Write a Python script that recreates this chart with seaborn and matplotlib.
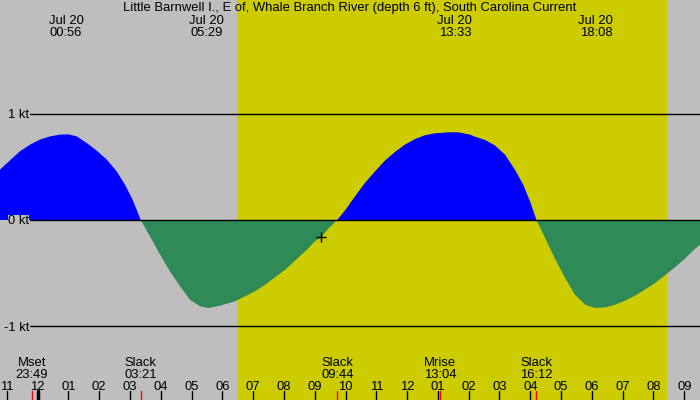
import matplotlib
matplotlib.use('Agg')
from matplotlib import pyplot as plt
import numpy as np
import seaborn as sns

# current speed (kt), time in hours from 00:00 Jul 20
hours = [-1.22, -0.89, -0.57, -0.24, 0.08, 0.41, 0.73, 1.00, 1.27, 1.60,
         1.92, 2.25, 2.57, 2.84, 3.06, 3.22, 3.35, 3.65, 3.98, 4.30,
         4.63, 4.95, 5.28, 5.55, 5.93, 6.41,
         6.74, 7.06, 7.39, 7.71, 8.04, 8.36, 8.69, 9.01, 9.21, 9.44,
         9.73, 9.98, 10.31, 10.63, 10.96, 11.28, 11.61, 11.93, 12.26, 12.58,
         12.91, 13.34, 13.66, 14.04,
         14.20, 14.53, 14.85, 15.18, 15.50, 15.77, 15.99, 16.20, 16.48, 16.80,
         17.13, 17.45, 17.78, 18.10, 18.43, 18.75, 19.08, 19.40, 19.72, 20.05,
         20.37, 20.70, 21.02, 21.35, 21.51]
speed = [0.475, 0.563, 0.648, 0.711, 0.758, 0.789, 0.805, 0.808, 0.789, 0.726,
         0.654, 0.569, 0.459, 0.333, 0.208, 0.097, 0.0, -0.154, -0.327, -0.484,
         -0.626, -0.752, -0.814, -0.830, -0.808, -0.767,
         -0.720, -0.673, -0.610, -0.541, -0.469, -0.384, -0.296, -0.201, -0.164, -0.082,
         0.0, 0.088, 0.223, 0.349, 0.459, 0.560, 0.642, 0.711, 0.764, 0.799,
         0.818, 0.827, 0.827, 0.805,
         0.786, 0.755, 0.704, 0.616, 0.475, 0.333, 0.176, 0.0, -0.170, -0.365,
         -0.547, -0.705, -0.799, -0.830, -0.824, -0.799, -0.761, -0.714, -0.657, -0.594,
         -0.522, -0.446, -0.365, -0.271, -0.235]

title = 'Little Barnwell I., E of, Whale Branch River (depth 6 ft), South Carolina Current'
peak_labels = ['00:56', '05:29', '13:33', '18:08']
peak_hours = [0.93, 5.48, 13.55, 18.13]
event_names = ['Mset', 'Slack', 'Slack', 'Mrise', 'Slack']
event_labels = ['23:49', '03:21', '09:44', '13:04', '16:12']
event_hours = [-0.183, 3.35, 9.733, 13.067, 16.2]
sunrise, sunset = 6.48, 20.43
now_hour, now_speed = 9.2, -0.16
kt_levels = [1, 0, -1]

x0, x1 = -1.218, 21.51
y0, y1 = -1.698, 2.075
px = (x1 - x0) / 700
py = (y1 - y0) / 400
bg = '#bebebe'
fs = 9.4
dy = 1.5 * py  # nudge text down a touch, va='center' sits high

sns.set_style('white')
plt.rcParams['font.family'] = ['Liberation Sans', 'DejaVu Sans']
plt.rcParams['text.color'] = 'black'

fig = plt.figure(figsize=(7, 4), dpi=100)
ax = fig.add_axes([0, 0, 1, 1])
ax.set_facecolor(bg)
fig.patch.set_facecolor(bg)
ax.set_xlim(x0, x1)
ax.set_ylim(y0, y1)
ax.axis('off')

ax.axvspan(sunrise, sunset, color='#cccc00', lw=0, zorder=0)

h = np.array(hours)
s = np.array(speed)
ax.fill_between(h, 0, s, where=s >= 0, interpolate=True, color='#0000ff', lw=0, zorder=2)
ax.fill_between(h, 0, s, where=s <= 0, interpolate=True, color='#2e8b57', lw=0, zorder=2)

for k in kt_levels:
    ax.plot([x0 + 30 * px, x1], [k, k], color='black', lw=1, zorder=3)
    ax.text(x0 + 29 * px, k - dy, f'{k} kt', ha='right', va='center', fontsize=fs, zorder=4,
            bbox=dict(facecolor=bg, edgecolor='none', pad=0.3))

ax.text((x0 + x1) / 2, y1 - 7 * py - dy, title, ha='center', va='center', fontsize=fs)
for t, lab in zip(peak_hours, peak_labels):
    ax.text(t, y1 - 19 * py - dy, 'Jul 20', ha='center', va='center', fontsize=fs)
    ax.text(t, y1 - 31 * py - dy, lab, ha='center', va='center', fontsize=fs)

for t, name, lab in zip(event_hours, event_names, event_labels):
    ax.text(t, y0 + 38 * py - dy, name, ha='center', va='center', fontsize=fs)
    ax.text(t, y0 + 26 * py - dy, lab, ha='center', va='center', fontsize=fs)
    ax.plot([t, t], [y0, y0 + 9 * py], color='red', lw=1)

for hr in range(-1, 22):
    lab = f'{(hr % 12) or 12:02d}'
    ax.text(hr, y0 + 15 * py - dy, lab, ha='center', va='center', fontsize=fs)
    ax.plot([hr, hr], [y0, y0 + 9 * py], color='black', lw=1)
ax.plot([0, 0], [y0, y0 + 9 * py], color='black', lw=2.5)

sns.scatterplot(x=[now_hour], y=[now_speed], marker='+', s=45, color='black',
                linewidth=1, ax=ax, zorder=5)

fig.savefig('out.png', dpi=100, facecolor=fig.get_facecolor())
